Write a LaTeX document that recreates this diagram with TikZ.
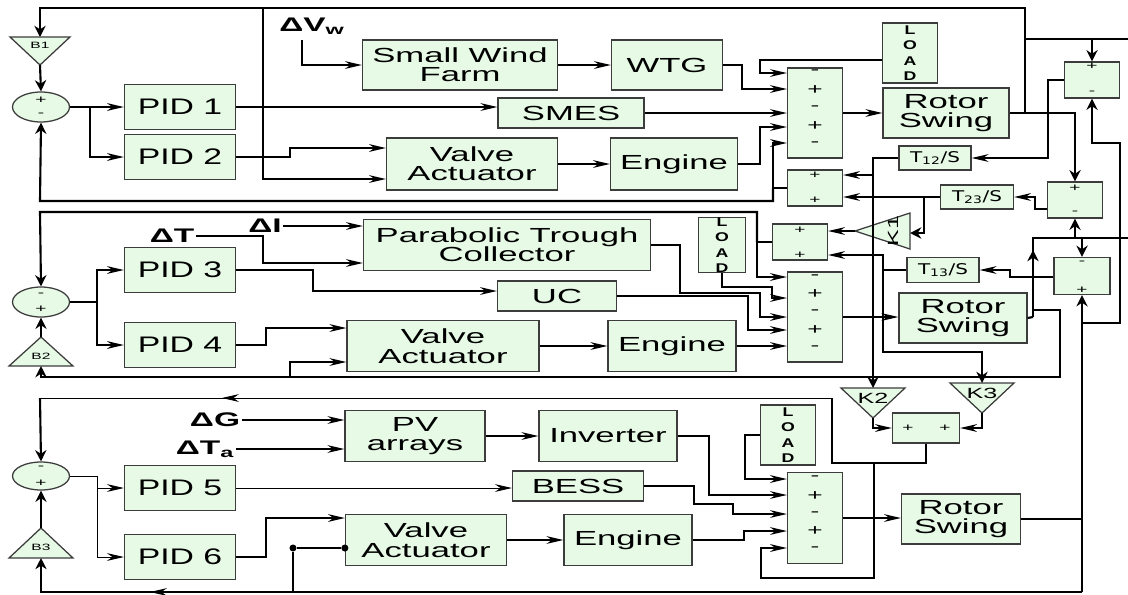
\documentclass[tikz,border=0pt]{standalone}
\usepackage{fontspec}
\setmainfont{Liberation Sans}[FakeStretch=1.7]
\newfontfamily\pidfont{Liberation Sans}[FakeStretch=1.5]
\newfontfamily\loadfont{Liberation Sans}[FakeStretch=1.4]
\newfontfamily\tfont{DejaVu Sans}[FakeStretch=1.35]
\usetikzlibrary{arrows.meta,shapes.geometric,calc}
\definecolor{blkgreen}{RGB}{230,250,230}
\definecolor{blkedge}{RGB}{60,60,60}

\begin{document}
\begin{tikzpicture}[x=0.025cm,y=-0.025cm,
  sz/.style 2 args={minimum width=#1*0.025cm, minimum height=#2*0.025cm},
  blk/.style={rectangle, draw=blkedge, fill=blkgreen, line width=0.9pt,
    inner sep=0pt, align=center, font=\fontsize{14.5}{13.8}\selectfont},
  pid/.style={blk, sz={111}{45}, font=\pidfont\fontsize{16}{16}\selectfont},
  sumc/.style={ellipse, draw=blkedge, fill=blkgreen, line width=0.9pt, inner sep=0pt},
  load/.style={blk, font=\loadfont\bfseries\fontsize{9}{10.9}\selectfont},
  tbox/.style={blk, font=\tfont\fontsize{10.5}{11}\selectfont},
  tri/.style={draw=blkedge, fill=blkgreen, line width=0.9pt},
  tlab/.style={inner sep=0pt, font=\fontsize{6.5}{7}\selectfont},
  klab/.style={inner sep=0pt, font=\fontsize{10.5}{10}\selectfont},
  sgn/.style={inner sep=0pt, font=\fontsize{11}{11}\selectfont},
  ssgn/.style={inner sep=0pt, font=\fontsize{8}{8}\selectfont},
  dlab/.style={inner sep=1pt, font=\bfseries\fontsize{14}{14}\selectfont},
  wire/.style={line width=1.1pt},
  thinw/.style={line width=0.6pt},
  fb/.style={line width=1.5pt},
  arr/.style={-{Stealth[length=12pt,width=5.5pt]}},
  varr/.style={-{Stealth[length=8pt,width=8pt]}},
  dot/.style={circle, fill=black, inner sep=0pt, minimum size=5pt}
]
  \useasboundingbox (0,0) rectangle (1128,594);

  % area 1
  \node[pid] (pid1) at (180,107) {PID 1};
  \node[pid] (pid2) at (180,157) {PID 2};
  \node[blk,sz={195}{50}] (swf) at (460,65) {Small Wind\\Farm};
  \node[blk,sz={111}{50}] (wtg) at (667,65) {WTG};
  \node[blk,sz={146}{30}] (smes) at (571,113) {SMES};
  \node[blk,sz={171}{52}] (va1) at (472,164) {Valve\\Actuator};
  \node[blk,sz={127}{52}] (eng1) at (674,164) {Engine};
  \node[blk,sz={55}{90}] (sum1) at (815,113) {};
  \node[load,sz={55}{60}] (load1) at (910,53) {L\\O\\A\\D};
  \node[blk,sz={126}{50}] (rs1) at (946,113) {Rotor\\Swing};
  \node[blk,sz={55}{36}] (sumA) at (1092,80) {};
  \node[tbox,sz={72}{24}] (t12) at (935,158) {T\textsubscript{12}/S};
  \node[blk,sz={55}{36}] (tie1) at (815,188) {};
  \node[tbox,sz={73}{24}] (t23) at (977,197) {T\textsubscript{23}/S};
  \node[blk,sz={55}{36}] (sumB) at (1075,200) {};
  \node[blk,sz={55}{36}] (tie2) at (800,242) {};
  \node[tbox,sz={72}{25}] (t13) at (943,270) {T\textsubscript{13}/S};
  \node[blk,sz={56}{37}] (sumC) at (1082,276) {};

  % area 2
  \node[pid] (pid3) at (180,270) {PID 3};
  \node[pid] (pid4) at (180,345) {PID 4};
  \node[blk,sz={287}{51}] (ptc) at (507,245) {Parabolic Trough\\Collector};
  \node[blk,sz={119}{30}] (uc) at (557,296) {UC};
  \node[load,sz={47}{54}] (load2) at (722,245) {L\\O\\A\\D};
  \node[blk,sz={192}{51}] (va2) at (443,346) {Valve\\Actuator};
  \node[blk,sz={128}{51}] (eng2) at (672,346) {Engine};
  \node[blk,sz={55}{90}] (sum2) at (815,317) {};
  \node[blk,sz={128}{50}] (rs2) at (963,318) {Rotor\\Swing};

  % area 3
  \node[blk,sz={140}{51}] (pv) at (415,436) {PV\\arrays};
  \node[blk,sz={138}{51}] (inv) at (608,436) {Inverter};
  \node[blk,sz={131}{30}] (bess) at (578,486) {BESS};
  \node[blk,sz={161}{51}] (va3) at (426,540) {Valve\\Actuator};
  \node[blk,sz={128}{51}] (eng3) at (628,540) {Engine};
  \node[load,sz={55}{60}] (load3) at (788,435) {L\\O\\A\\D};
  \node[blk,sz={55}{91}] (sum3) at (815,518) {};
  \node[blk,sz={119}{50}] (rs3) at (961,519) {Rotor\\Swing};
  \node[pid] (pid5) at (180,488) {PID 5};
  \node[pid] (pid6) at (180,557) {PID 6};
  \node[blk,sz={67}{30}] (tie3) at (926,428) {};

  % summing circles
  \node[sumc,sz={57}{30}] (c1) at (41,107) {};
  \node[sumc,sz={57}{30}] (c2) at (41,302) {};
  \node[sumc,sz={57}{28}] (c3) at (41,476) {};

  % gains
  \draw[tri] (10,37) -- (70,37) -- (40,65) -- cycle;
  \coordinate (b1t) at (40,37); \coordinate (b1b) at (40,65);
  \node[tlab] (b1) at (40,45) {B1};
  \draw[tri] (41,337) -- (73,366) -- (9,366) -- cycle;
  \coordinate (b2t) at (41,337); \coordinate (b2b) at (41,366);
  \node[tlab] (b2) at (41,356) {B2};
  \draw[tri] (41,528) -- (73,558) -- (9,558) -- cycle;
  \coordinate (b3t) at (41,528); \coordinate (b3b) at (41,558);
  \node[tlab] (b3) at (41,547) {B3};
  \draw[tri] (855,231) -- (910,213) -- (910,249) -- cycle;
  \coordinate (k1tip) at (855,231); \coordinate (k1r) at (910,233);
  \node[klab,rotate=90] (k1) at (893,231) {K1};
  \draw[tri] (841,388) -- (905,388) -- (873,418) -- cycle;
  \coordinate (k2t) at (873,388); \coordinate (k2tip) at (873,418);
  \node[klab] (k2) at (873,398) {K2};
  \draw[tri] (950,383) -- (1014,383) -- (982,413) -- cycle;
  \coordinate (k3t) at (982,383); \coordinate (k3tip) at (982,413);
  \node[klab] (k3) at (982,393) {K3};

  % signs
  \foreach \yy/\sg in {72/-,90/+,108/-,126/+,144/-} \node[sgn] (pa\yy) at (815,\yy) {\sg};
  \foreach \yy/\sg in {277/-,294/+,312/-,330/+,348/-} \node[sgn] (pb\yy) at (815,\yy) {\sg};
  \foreach \yy/\sg in {478/-,496/+,514/-,531/+,549/-} \node[sgn] (pc\yy) at (815,\yy) {\sg};
  \foreach \xx/\yy/\sg [count=\i] in {1092/66/+,1092/93/-,815/175/+,815/200/+,
      1075/188/+,1075/213/-,800/230/+,800/255/+,1082/263/-,1082/290/+,
      908/428/+,945/428/+,41/100/+,41/115/-,41/295/-,41/309/+,41/468/-,41/483/+}
    \node[ssgn] (ss\i) at (\xx,\yy) {\sg};

  % inputs
  \node[dlab] (dvw) at (312,26) {ΔV\textsubscript{w}};
  \coordinate (dvwo) at (302,40);
  \node[dlab] (dT) at (172,236) {ΔT};
  \node[dlab] (dI) at (265,226) {ΔI};
  \node[dlab] (dG) at (215,420) {ΔG};
  \node[dlab] (dTa) at (205,449) {ΔT\textsubscript{a}};

  % area 1 wiring
  \draw[fb] (rs1.east) -- (1025,113) coordinate (j1);
  \draw[fb,varr] (j1) |- (40,8) -- (b1t);
  \draw[fb,varr] (j1) -| (sumB.north);
  \draw[fb] (1025,39) -- (1128,39);
  \draw[fb,varr] (sumA.north |- 0,39) -- (sumA.north);
  \draw[wire,arr] (263,8) |- (va1.west |- 0,179);
  \draw[fb,varr] (b1b) -- (c1.north);
  \draw[fb,arr] (c1.east) -- (pid1.west);
  \draw[fb,arr] (90,107) |- (pid2.west);
  \draw[wire,arr] (dvwo) |- (swf.west);
  \draw[wire,arr] (swf) -- (wtg);
  \draw[wire,arr] (wtg.east) -- (742,65) |- (sum1.west |- 0,89);
  \draw[wire,arr] (pid1.east) -- (smes.west |- 0,107);
  \draw[wire,arr] (smes.east) -- (sum1.west |- 0,113);
  \draw[fb,arr] (pid2.east) -- (290,157) |- (va1.west |- 0,148);
  \draw[wire,arr] (va1) -- (eng1);
  \draw[wire,arr] (eng1.east) -- (760,164) |- (sum1.west |- 0,127);
  \draw[wire,arr] (load1.west |- 0,60) -- (760,60) |- (sum1.west |- 0,73);
  \draw[wire,arr] (sum1) -- (rs1);
  \draw[fb,arr] (tie1.west) -- (773,188) |- (sum1.west |- 0,143);
  \draw[fb,varr] (773,188) |- (40,201) -- (c1.south);
  \draw[fb,arr] (sumA.west) -- (1048,80) |- (t12.east);
  \draw[fb,arr] (t12.west) -- (873,158) |- (tie1.east |- 0,175);
  \draw[fb,varr] (873,158) -- (k2t);
  \draw[fb,arr] (sumB.west |- 0,209) -- (1035,209) |- (t23.east);
  \draw[fb,arr] (t23.west) -- (tie1.east |- 0,197);
  \draw[fb,varr] (924,197) |- (k1r);
  \draw[wire,arr] (k1tip) -- (tie2.east |- 0,231);
  \draw[fb,arr] (sumC.west |- 0,277) -- (1010,277) |- (t13.east);
  \draw[fb,arr] (t13.west) -- (883,270) |- (tie2.east |- 0,255);
  \draw[fb,varr] (883,270) |- (k3t |- 0,352) -- (k3t);
  \draw[fb,arr] (tie2.west) -- (757,242) |- (sum2.west |- 0,277);
  \draw[fb,varr] (757,242) |- (40,212) -- (c2.north);

  % area 2 wiring
  \draw[fb] (rs2.east) -- (1033,317);
  \draw[fb,varr] (1033,317) -- (1033,250);
  \draw[fb] (1033,252) |- (1128,238);
  \draw[fb,varr] (sumB.south |- 0,238) -- (sumB.south);
  \draw[fb,varr] (sumC.north |- 0,238) -- (sumC.north);
  \draw[fb,varr] (1033,310) -| (1060,377) -| (b2b);
  \draw[wire,arr] (sum2.east) -- (rs2.west |- sum2.east);
  \draw[wire,arr] (dT.east) -- (263,236) |- (ptc.west |- 0,263);
  \draw[wire,arr] (dI.east) -- (ptc.west |- dI.east);
  \draw[fb,varr] (b2t) -- (c2.south);
  \draw[fb,arr] (c2.east) -- (97,302) |- (pid3.west);
  \draw[fb,arr] (97,302) |- (pid4.west);
  \draw[wire,arr] (pid3.east) -- (313,270) |- (uc.west |- 0,291);
  \draw[fb,arr] (pid4.east) -- (266,345) |- (va2.west |- 0,328);
  \draw[wire,arr] (290,377) |- (va2.west |- 0,362);
  \draw[wire,arr] (va2) -- (eng2);
  \draw[wire,arr] (eng2.east) -- (sum2.west |- eng2.east);
  \draw[wire,arr] (ptc.east) -- (680,245) |- (760,293) |- (sum2.west |- 0,317);
  \draw[wire,arr] (load2.south) |- (772,287) |- (sum2.west |- 0,298);
  \draw[wire,arr] (uc.east) -- (748,296) |- (sum2.west |- 0,330);

  % area 3 wiring
  \draw[fb] (tie3.south) |- (832,463) -- (832,398);
  \draw[thinw,arr] (832,398) -- (222,398);
  \draw[thinw] (225,398) -- (40,398);
  \draw[fb,varr] (40,398) -- (c3.north);
  \draw[fb,arr] (874,463) |- (761,578) |- (sum3.west |- 0,548);
  \draw[fb,arr] (k2tip) |- (tie3.west);
  \draw[fb,arr] (k3tip) |- (tie3.east);
  \draw[wire,arr] (dG.east) -- (pv.west |- dG.east);
  \draw[wire,arr] (dTa.east) -- (pv.west |- dTa.east);
  \draw[wire,arr] (pv) -- (inv);
  \draw[wire,arr] (inv.east) -- (709,436) |- (sum3.west |- 0,495);
  \draw[fb,arr] (load3.west) -- (745,435) |- (sum3.west |- 0,479);
  \draw[thinw,arr] (c3.east) -- (97,476) |- (pid5.west);
  \draw[thinw,arr] (97,476) |- (pid6.west);
  \draw[fb,varr] (b3t) -- (c3.south);
  \draw[thinw,arr] (pid5.east) -- (bess.west |- pid5.east);
  \draw[wire,arr] (bess.east) -- (694,486) |- (733,504) |- (sum3.west |- 0,514);
  \draw[fb,arr] (pid6.east) -- (266,557) |- (va3.west |- 0,518);
  \draw[wire,arr] (va3) -- (eng3);
  \draw[wire,arr] (eng3.east) -- (744,540) |- (sum3.west |- 0,531);
  \draw[wire,arr] (sum3.east) -- (rs3.west |- sum3.east);
  \draw[fb] (rs3.east) -- (sumC.south |- rs3.east);
  \draw[fb,varr] (sumC.south |- 0,592) -- (sumC.south);
  \draw[fb,varr] (sumC.south |- 0,323) -| (1120,143) -| (sumA.south);
  \draw[wire,arr] (sumC.south |- 0,592) -- (150,592);
  \draw[wire,varr] (155,592) -| (b3b);
  \node[dot] (d1) at (293,548) {};
  \node[dot] (d2) at (va3.west |- 0,548) {};
  \draw[wire] (293,592) -- (d1) -- (d2);
\end{tikzpicture}
\end{document}
